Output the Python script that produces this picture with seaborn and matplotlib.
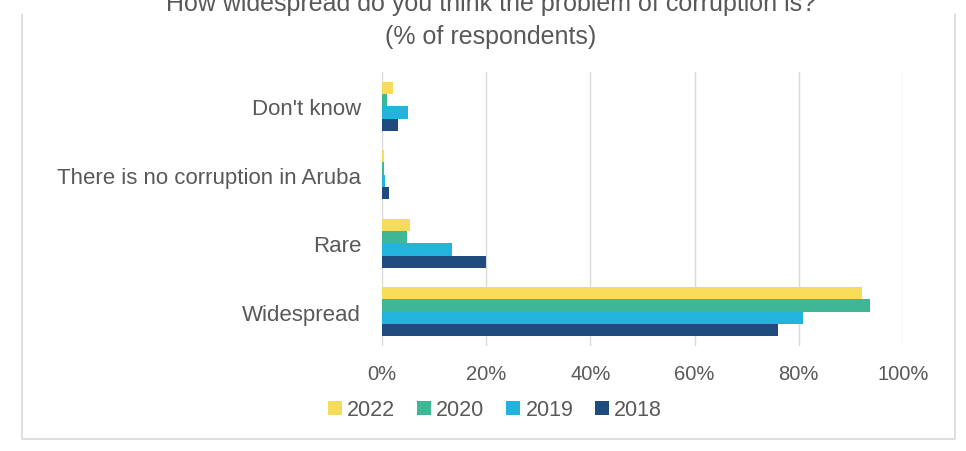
import pandas as pd
import seaborn as sns
import matplotlib.pyplot as plt
from matplotlib.lines import Line2D
from matplotlib.ticker import PercentFormatter

# answers, top to bottom
categories = ["Don't know", "There is no corruption in Aruba", "Rare", "Widespread"]
years = ["2022", "2020", "2019", "2018"]

# % of respondents per survey year
vals_2022 = [2.1, 0.3, 5.3, 92.1]
vals_2020 = [1.0, 0.4, 4.8, 93.7]
vals_2019 = [4.9, 0.5, 13.4, 80.9]
vals_2018 = [3.0, 1.3, 19.9, 76.0]

colors = ["#F7DC5B", "#3DB795", "#22B4DC", "#1F4B7E"]
text_col = "#595959"
grid_col = "#D9D9D9"

# long form table for seaborn
rows = []
for yr, vals in zip(years, [vals_2022, vals_2020, vals_2019, vals_2018]):
    for cat, v in zip(categories, vals):
        rows.append({"answer": cat, "year": yr, "pct": v})
df = pd.DataFrame(rows)

sns.set_style("white")
plt.rcParams['font.family'] = ['Liberation Sans', 'DejaVu Sans']

fig = plt.figure(figsize=(9.66, 4.52), dpi=100)
ax = fig.add_axes([382 / 966, 1 - 347 / 452, 521 / 966, 274 / 452])

sns.barplot(data=df, y="answer", x="pct", hue="year", order=categories,
            hue_order=years, palette=colors, orient="h", width=0.72,
            saturation=1, linewidth=0, ax=ax, legend=True)

ax.set_xlim(0, 100)
ax.set_xticks([0, 20, 40, 60, 80, 100])
ax.xaxis.set_major_formatter(PercentFormatter(decimals=0))
ax.set_xlabel("")
ax.set_ylabel("")
ax.grid(axis="x", color=grid_col, linewidth=1)
ax.set_axisbelow(True)
for s in ["top", "right", "bottom", "left"]:
    ax.spines[s].set_visible(False)
ax.tick_params(axis="x", colors=grid_col, length=6, width=1, labelcolor=text_col,
               labelsize=14.5, pad=7)
ax.tick_params(axis="y", length=0, labelcolor=text_col, labelsize=16, pad=15)

# legend under the axis
handles, labels = ax.get_legend_handles_labels()
ax.legend_.remove()
fig.legend(handles, labels, loc="center", bbox_to_anchor=(495 / 966, 1 - 411 / 452),
           ncol=4, frameon=False, fontsize=15.5, handlelength=0.65, handleheight=0.65,
           handletextpad=0.25, columnspacing=1.0, labelcolor=text_col)

# title, first line is cut by the top edge like in the source image
fig.text(491 / 966, 1 - 4 / 452, "How widespread do you think the problem of corruption is?",
         ha="center", va="center", fontsize=18, color=text_col)
fig.text(491 / 966, 1 - 37 / 452, "(% of respondents)",
         ha="center", va="center", fontsize=18, color=text_col)

# light chart border
xl, xr, yt, yb = 22 / 966, 955 / 966, 1 - 15 / 452, 1 - 440 / 452
fig.add_artist(Line2D([xl, xl, xr, xr], [yt, yb, yb, yt], color=grid_col, linewidth=1.2))

fig.savefig("out.png", dpi=100)
